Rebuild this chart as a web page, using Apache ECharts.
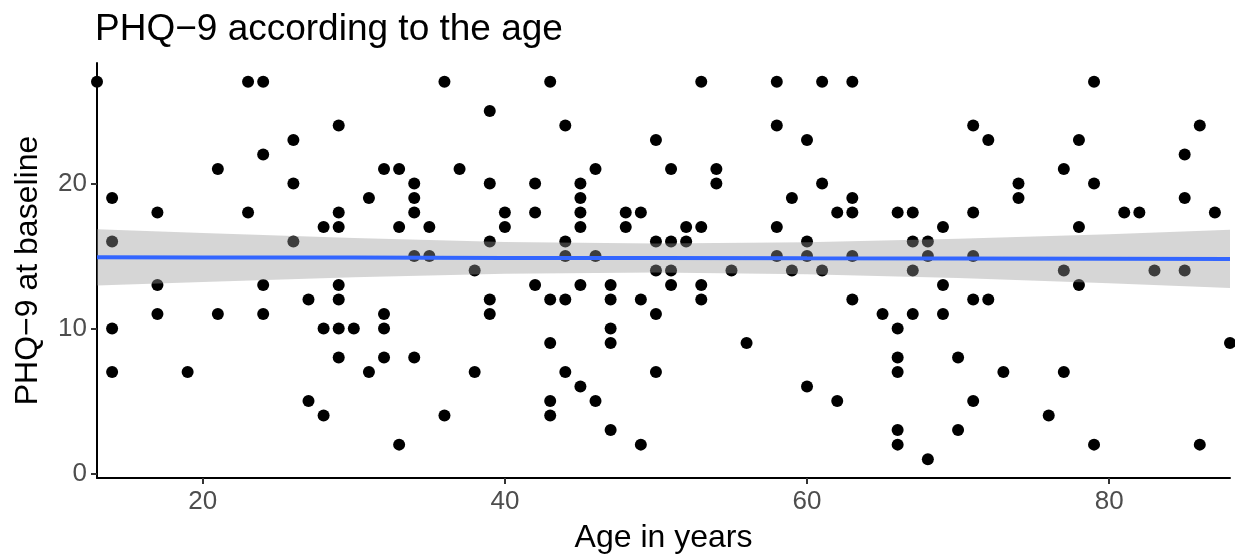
<!DOCTYPE html>
<html>
<head>
<meta charset="utf-8">
<script src="https://cdn.jsdelivr.net/npm/echarts@6/dist/echarts.min.js"></script>
<style>
  html, body { margin: 0; padding: 0; background: #ffffff; }
  #chart { width: 1235px; height: 556px; }
</style>
</head>
<body>
<div id="chart"></div>
<script>
// Patients: age in years and PHQ-9 score at baseline (one entry per patient)
const ages = [
  13,
  14, 14, 14, 14,
  17, 17, 17,
  19,
  21, 21,
  23, 23,
  24, 24, 24, 24,
  26, 26, 26,
  27, 27,
  28, 28, 28,
  29, 29, 29, 29, 29, 29, 29,
  30,
  31, 31,
  32, 32, 32, 32,
  33, 33, 33,
  34, 34, 34, 34, 34,
  35, 35,
  36, 36,
  37,
  38, 38,
  39, 39, 39, 39, 39,
  40, 40,
  42, 42, 42,
  43, 43, 43, 43, 43,
  44, 44, 44, 44, 44,
  45, 45, 45, 45, 45, 45,
  46, 46, 46,
  47, 47, 47, 47, 47,
  48, 48,
  49, 49, 49,
  50, 50, 50, 50, 50,
  51, 51, 51, 51,
  52, 52,
  53, 53, 53, 53,
  54, 54,
  55,
  56,
  58, 58, 58, 58,
  59, 59,
  60, 60, 60, 60,
  61, 61, 61,
  62, 62,
  63, 63, 63, 63, 63,
  65,
  66, 66, 66, 66, 66, 66,
  67, 67, 67, 67,
  68, 68, 68,
  69, 69, 69,
  70, 70,
  71, 71, 71, 71, 71,
  72, 72,
  73,
  74, 74,
  76,
  77, 77, 77,
  78, 78, 78,
  79, 79, 79,
  81,
  82,
  83,
  85, 85, 85,
  86, 86,
  87,
  88
];
const phq = [
  27,
  19, 16, 10, 7,
  18, 13, 11,
  7,
  21, 11,
  27, 18,
  27, 22, 13, 11,
  23, 20, 16,
  12, 5,
  17, 10, 4,
  24, 18, 17, 13, 12, 10, 8,
  10,
  19, 7,
  21, 11, 10, 8,
  21, 17, 2,
  20, 19, 18, 15, 8,
  17, 15,
  27, 4,
  21,
  14, 7,
  25, 20, 16, 12, 11,
  18, 17,
  20, 18, 13,
  27, 12, 9, 5, 4,
  24, 16, 15, 12, 7,
  20, 19, 18, 17, 13, 6,
  21, 15, 5,
  13, 12, 10, 9, 3,
  18, 17,
  18, 12, 2,
  23, 16, 14, 11, 7,
  21, 16, 14, 13,
  17, 16,
  27, 17, 13, 12,
  21, 20,
  14,
  9,
  27, 24, 17, 15,
  19, 14,
  23, 16, 15, 6,
  27, 20, 14,
  18, 5,
  27, 19, 18, 15, 12,
  11,
  18, 10, 8, 7, 3, 2,
  18, 16, 14, 11,
  16, 15, 1,
  17, 13, 11,
  8, 3,
  24, 18, 15, 12, 5,
  23, 12,
  7,
  20, 19,
  4,
  21, 14, 7,
  23, 17, 13,
  27, 20, 2,
  18,
  18,
  14,
  22, 19, 14,
  24, 2,
  18,
  9
];

// Linear fit with its 95% confidence band, sampled along the age range
const fitAges   = [13, 20, 30, 40, 50, 60, 70, 80, 88];
const fitValues = [14.91, 14.90, 14.89, 14.87, 14.86, 14.84, 14.83, 14.81, 14.80];
const bandLower = [12.97, 13.21, 13.54, 13.77, 13.86, 13.74, 13.48, 13.12, 12.80];
const bandUpper = [16.85, 16.59, 16.24, 15.97, 15.86, 15.94, 16.18, 16.50, 16.80];

// Axis breaks
const xTicks = [20, 40, 60, 80];
const yTicks = [0, 10, 20];

const points = ages.map((a, i) => [a, phq[i]]);
const fitLine = fitAges.map((a, i) => [a, fitValues[i]]);

const FONT = '"Liberation Sans", Arial, Helvetica, sans-serif';

const chart = echarts.init(document.getElementById('chart'), null, { renderer: 'canvas' });

chart.setOption({
  animation: false,
  backgroundColor: '#ffffff',
  textStyle: { fontFamily: FONT },
  title: {
    text: 'PHQ\u22129 according to the age',
    left: 95,
    top: 11,
    padding: 0,
    textStyle: { fontFamily: FONT, fontSize: 37, fontWeight: 'normal', color: '#000000' }
  },
  grid: {
    left: 97,
    right: 5,
    top: 63,
    bottom: 78,
    containLabel: false,
    outerBoundsMode: 'none'
  },
  xAxis: {
    type: 'value',
    min: 13,
    max: 88,
    name: 'Age in years',
    nameLocation: 'middle',
    nameGap: 44,
    nameTextStyle: { fontFamily: FONT, fontSize: 32, color: '#000000' },
    axisLine: { show: true, onZero: false, lineStyle: { color: '#000000', width: 2 } },
    axisTick: { show: true, customValues: xTicks, length: 6, lineStyle: { color: '#333333', width: 2 } },
    axisLabel: { customValues: xTicks, fontFamily: FONT, fontSize: 26, color: '#4D4D4D', margin: 11 },
    splitLine: { show: false }
  },
  yAxis: {
    type: 'value',
    min: -0.3,
    max: 28.3,
    name: 'PHQ\u22129 at baseline',
    nameLocation: 'middle',
    nameGap: 53,
    nameRotate: 90,
    nameTextStyle: { fontFamily: FONT, fontSize: 32, color: '#000000' },
    axisLine: { show: true, onZero: false, lineStyle: { color: '#000000', width: 2 } },
    axisTick: { show: true, customValues: yTicks, length: 6, lineStyle: { color: '#333333', width: 2 } },
    axisLabel: { customValues: yTicks, fontFamily: FONT, fontSize: 26, color: '#4D4D4D', margin: 10 },
    splitLine: { show: false }
  },
  series: [
    {
      name: 'patients',
      type: 'scatter',
      data: points,
      symbol: 'circle',
      symbolSize: 12,
      itemStyle: { color: '#000000', opacity: 1 },
      clip: true,
      z: 2,
      silent: true
    },
    {
      name: 'confidence band',
      type: 'custom',
      coordinateSystem: 'cartesian2d',
      data: [[fitAges[0], fitValues[0]]],
      clip: true,
      silent: true,
      z: 3,
      renderItem: function (params, api) {
        const pts = [];
        for (let i = 0; i < fitAges.length; i++) {
          pts.push(api.coord([fitAges[i], bandUpper[i]]));
        }
        for (let i = fitAges.length - 1; i >= 0; i--) {
          pts.push(api.coord([fitAges[i], bandLower[i]]));
        }
        return {
          type: 'polygon',
          shape: { points: pts },
          style: { fill: 'rgba(153,153,153,0.4)', stroke: null }
        };
      }
    },
    {
      name: 'linear fit',
      type: 'line',
      data: fitLine,
      symbol: 'none',
      lineStyle: { color: '#3366FF', width: 4 },
      z: 4,
      silent: true
    }
  ]
});
</script>
</body>
</html>
